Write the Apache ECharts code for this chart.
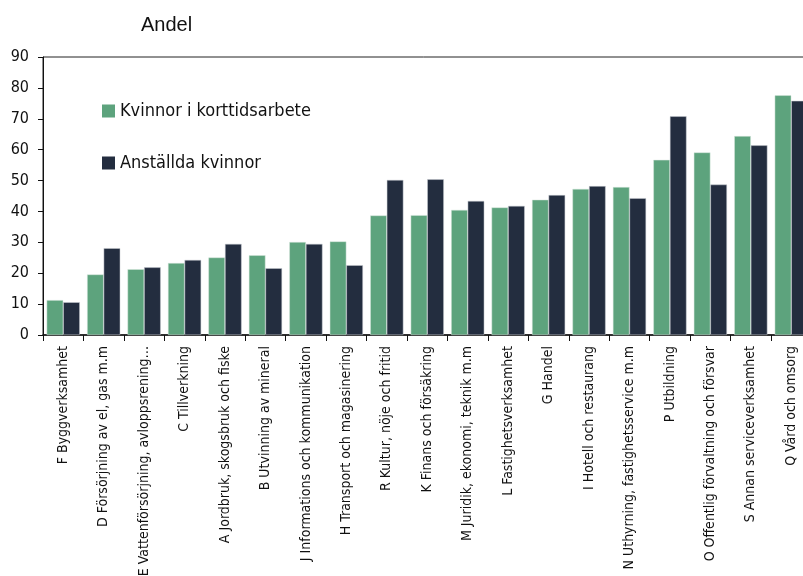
<!DOCTYPE html>
<html>
<head>
<meta charset="utf-8">
<script src="https://cdn.jsdelivr.net/npm/echarts@6/dist/echarts.min.js"></script>
<style>
  html, body { margin: 0; padding: 0; background: #fff; }
  #chart { width: 803px; height: 576px; }
</style>
</head>
<body>
<div id="chart"></div>
<script>
// Branscher (SNI-avdelningar), sorterade efter andel kvinnor i korttidsarbete
const branscher = [
    'F Byggverksamhet',
    'D Försörjning av el, gas m.m',
    'E Vattenförsörjning, avloppsrening…',
    'C Tillverkning',
    'A Jordbruk, skogsbruk och fiske',
    'B Utvinning av mineral',
    'J Informations och kommunikation',
    'H Transport och magasinering',
    'R Kultur, nöje och fritid',
    'K Finans och försäkring',
    'M Juridik, ekonomi, teknik m.m',
    'L Fastighetsverksamhet',
    'G Handel',
    'I Hotell och restaurang',
    'N Uthyrning, fastighetsservice m.m',
    'P Utbildning',
    'O Offentlig förvaltning och försvar',
    'S Annan serviceverksamhet',
    'Q Vård och omsorg'
];

// Andel kvinnor (%) bland de korttidsarbetande
const korttid = [11.3, 19.6, 21.3, 23.3, 25.1, 25.8, 30.1, 30.3, 38.7, 38.8,
                 40.5, 41.3, 43.8, 47.3, 47.9, 56.7, 59.1, 64.4, 77.6];

// Andel kvinnor (%) bland samtliga anställda
const anstallda = [10.6, 28.1, 21.9, 24.3, 29.5, 21.6, 29.5, 22.6, 50.2, 50.4,
                   43.4, 41.8, 45.3, 48.2, 44.3, 70.8, 48.7, 61.4, 75.8];

const yTicks = [0, 10, 20, 30, 40, 50, 60, 70, 80, 90];

const narrow = "'Liberation Sans Narrow', 'DejaVu Sans Condensed', 'Noto Sans', sans-serif";

const chart = echarts.init(document.getElementById('chart'));

const option = {
    backgroundColor: '#fff',
    animation: false,
    title: {
        text: 'Andel',
        left: 136,
        top: 10,
        textStyle: {
            fontFamily: "'Liberation Sans', Arial, sans-serif",
            fontSize: 20,
            fontWeight: 'normal',
            color: '#111'
        }
    },
    legend: {
        orient: 'vertical',
        left: 97,
        top: 97,
        itemWidth: 13,
        itemHeight: 13,
        itemGap: 34,
        icon: 'rect',
        itemStyle: { borderWidth: 0 },
        textStyle: {
            fontFamily: narrow,
            fontSize: 18,
            color: '#111'
        },
        data: ['Kvinnor i korttidsarbete', 'Anställda kvinnor']
    },
    grid: {
        left: 43,
        right: -8.5,
        top: 57,
        bottom: 241,
        show: true,
        borderColor: '#222',
        borderWidth: 1,
        outerBoundsMode: 'none',
        containLabel: false
    },
    xAxis: {
        type: 'category',
        data: branscher,
        axisLine: { lineStyle: { color: '#111', width: 1.5 } },
        axisTick: { show: true, length: 6, lineStyle: { color: '#111' } },
        axisLabel: {
            rotate: 90,
            interval: 0,
            margin: 11,
            fontFamily: narrow,
            fontSize: 14,
            color: '#111'
        }
    },
    yAxis: {
        type: 'value',
        min: 0,
        max: 90,
        interval: 10,
        axisLine: { show: true, lineStyle: { color: '#111' } },
        axisTick: { show: true, length: 5, lineStyle: { color: '#111' } },
        splitLine: { show: false },
        axisLabel: {
            margin: 14,
            fontFamily: narrow,
            fontSize: 16,
            color: '#111',
            formatter: v => (yTicks.includes(v) ? String(v) : '')
        }
    },
    series: [
        {
            name: 'Kvinnor i korttidsarbete',
            type: 'bar',
            data: korttid,
            barGap: '0%',
            barCategoryGap: '18%',
            itemStyle: { color: '#5da37d', borderColor: '#d9e6df', borderWidth: 0.5 }
        },
        {
            name: 'Anställda kvinnor',
            type: 'bar',
            data: anstallda,
            barGap: '0%',
            barCategoryGap: '18%',
            itemStyle: { color: '#232d3f', borderColor: '#c9ccd2', borderWidth: 0.5 }
        }
    ]
};

chart.setOption(option);
</script>
</body>
</html>
